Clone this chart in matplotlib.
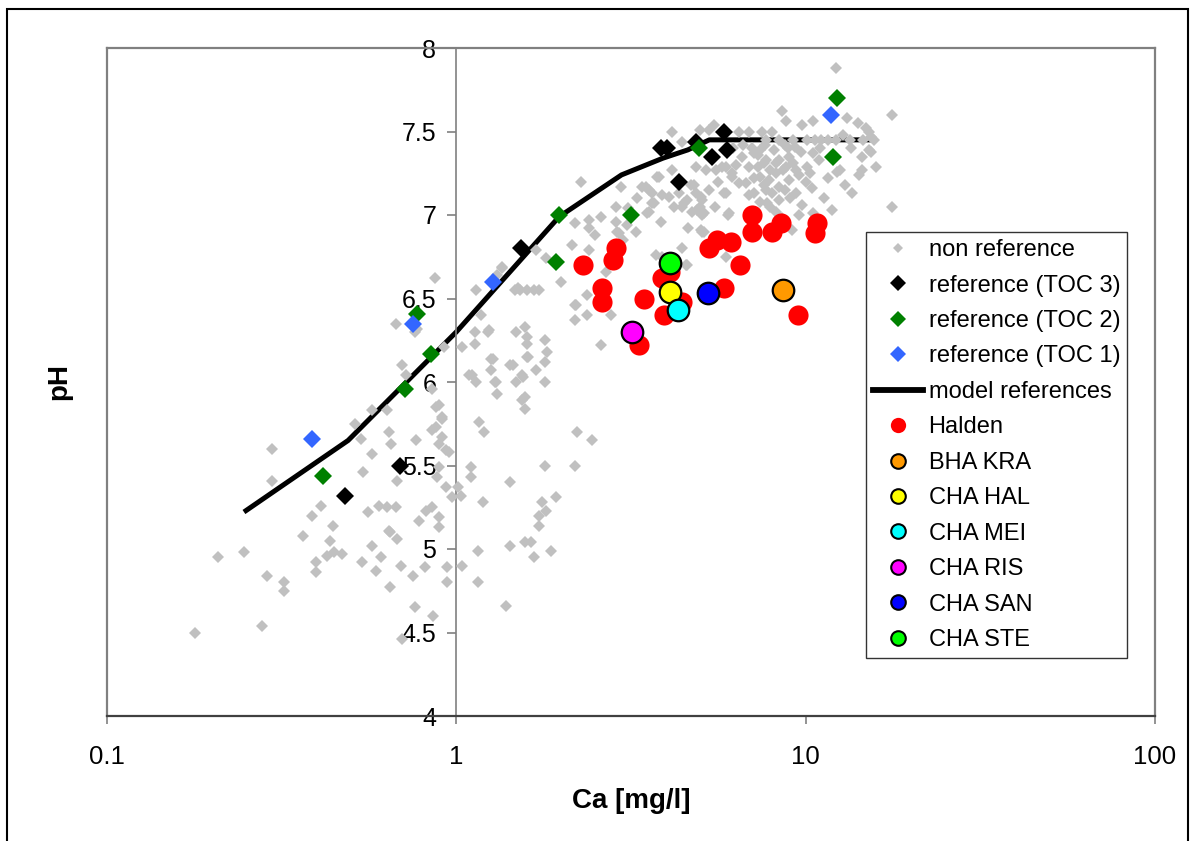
import matplotlib.pyplot as plt
from matplotlib.lines import Line2D
from matplotlib.patches import Rectangle

plt.rcParams['font.family'] = ['Liberation Sans', 'DejaVu Sans']

# non reference sites (Ca mg/l, pH)
nonref_ca = [0.179, 0.208, 0.247, 0.278, 0.297, 0.297, 0.288, 0.322, 0.322, 0.387, 0.411, 0.365, 0.445, 0.436,
             0.397, 0.397, 0.425, 0.447, 0.472, 0.538, 0.575, 0.59, 0.61, 0.647, 0.647, 0.678, 0.695, 0.753,
             0.815, 0.763, 0.86, 0.942, 0.942, 0.542, 0.56, 0.575, 0.535, 0.514, 0.575, 0.643, 0.652, 0.678,
             0.602, 0.634, 0.673, 0.768, 0.643, 0.784, 0.82, 0.854, 0.894, 0.894, 0.877, 0.912, 0.936, 0.894,
             0.882, 0.936, 0.974, 0.877, 0.634, 0.70,
             0.871, 0.673, 0.763, 0.70, 0.72, 0.924, 0.894, 0.854, 0.912, 0.955, 0.854, 0.912, 0.894,
             1.14, 1.35, 1.50, 1.59, 1.73, 1.69, 2.15, 2.40, 2.40, 2.40, 2.18, 2.87, 2.89, 3.07, 3.27, 3.52,
             3.86, 3.69, 3.89, 4.49, 4.73, 5.03, 4.43, 3.74, 4.55, 2.28, 2.97, 3.50, 1.81, 2.0, 2.18, 2.37,
             2.18, 2.37, 2.78, 2.60, 1.18, 1.13, 1.23, 1.04, 1.13, 1.48, 1.57, 1.59, 1.79, 1.82, 1.60, 1.26,
             1.42, 1.45, 1.79, 1.69, 1.54, 1.48, 1.26, 1.29, 1.11, 1.14, 1.79, 1.31, 1.57, 1.54, 1.57, 1.16,
             1.20, 2.22, 2.44, 1.79, 2.18, 1.10, 1.10, 1.42, 1.01, 1.03, 1.19, 1.93, 1.76, 1.81, 1.73, 1.73,
             1.42, 1.57, 1.64, 1.15, 1.87, 1.67, 1.04, 1.15, 1.39,
             1.24, 1.27, 1.09, 1.30, 1.59, 1.59, 1.55, 0.773, 1.47, 1.67, 1.35, 1.31,
             3.41, 3.57, 3.76, 4.07, 3.64, 4.43, 4.90, 5.06, 4.80, 5.03, 2.87, 3.57, 2.93, 2.69, 4.58, 3.89,
             5.06, 5.93, 6.0, 5.93, 6.15, 5.77, 4.86, 4.15, 4.97, 5.47, 3.81, 2.2, 1.52,
             17.7, 17.7, 12.2, 15.9, 14.5, 13.6, 13.0, 11.9, 11.3, 12.3, 8.58, 8.8, 9.79, 10.5, 13.1, 14.1,
             14.9, 15.4, 15.2, 14.5,
             4.43, 5.3, 6.45, 6.88, 7.5, 8.0, 15.2, 15.7, 15.4, 14.2, 12.5, 10.4, 10.5, 9.79, 9.4, 8.98,
             8.4, 8.03, 7.72, 7.38, 6.88, 6.58, 7.12, 7.72, 8.4, 8.98, 9.7, 10.5, 10.9, 10.1, 9.4, 8.24,
             8.8, 7.3, 7.86, 8.4, 7.12, 6.75, 6.45, 6.15, 5.93, 5.85, 6.05, 5.06, 4.97, 4.58, 5.13, 4.35,
             4.86, 5.13, 3.64, 4.15, 5.2, 5.55, 8.58, 9.16,
             7.7, 8.4, 9.2, 10.1, 11.1, 12.2, 13.4, 14.6, 7.64, 8.1, 8.7, 9.3, 7.38, 7.77,
             6.2, 6.6, 7.0, 7.3, 7.6, 7.9, 8.2, 8.6, 9.2, 9.6, 10.0, 10.3, 9.0, 8.7, 7.6, 7.1, 7.9, 8.2,
             9.6, 11.6, 11.0, 11.6, 12.8, 13.5, 6.9, 7.4, 8.9, 10.6, 6.3, 5.6, 5.3, 4.7, 4.2, 3.3, 3.1,
             2.6, 2.5, 3.0, 4.6, 5.5]
nonref_ph = [4.50, 4.95, 4.98, 4.54, 5.60, 5.41, 4.84, 4.80, 4.75, 5.20, 5.26, 5.08, 5.14, 5.05,
             4.86, 4.92, 4.96, 4.98, 4.97, 4.92, 5.02, 4.87, 4.95, 4.77, 5.10, 5.06, 4.90, 4.84,
             4.89, 4.65, 4.60, 4.80, 4.89, 5.46, 5.22, 5.57, 5.66, 5.75, 5.83, 5.70, 5.63, 5.41,
             5.26, 5.25, 5.25, 5.65, 5.11, 5.17, 5.23, 5.25, 5.19, 5.13, 5.73, 5.78, 5.59, 5.49,
             5.43, 5.37, 5.31, 5.85, 5.83, 4.46,
             6.62, 6.35, 6.30, 6.10, 6.04, 6.21, 5.86, 5.96, 5.79, 5.58, 5.71, 5.67, 5.63,
             6.55, 6.68, 6.56, 6.55, 6.55, 6.79, 6.82, 6.79, 6.97, 6.92, 6.95, 7.05, 6.90, 6.94, 6.90, 7.01,
             6.96, 7.07, 7.12, 7.07, 7.02, 6.91, 6.80, 6.76, 6.70, 7.20, 7.17, 7.17, 6.74, 6.60, 6.46, 6.40,
             6.37, 6.52, 6.40, 6.22, 6.40, 6.30, 6.30, 6.21, 6.23, 6.30, 6.33, 6.27, 6.25, 6.18, 6.15, 6.14,
             6.10, 6.10, 6.12, 6.07, 6.04, 6.00, 6.07, 6.00, 6.04, 6.00, 6.00, 5.93, 5.91, 5.89, 5.84, 5.76,
             5.70, 5.70, 5.65, 5.50, 5.50, 5.49, 5.43, 5.40, 5.37, 5.32, 5.28, 5.31, 5.28, 5.23, 5.20, 5.14,
             5.02, 5.04, 5.04, 4.99, 4.99, 4.95, 4.90, 4.80, 4.66,
             6.31, 6.14, 6.04, 6.00, 6.23, 6.15, 6.03, 6.32, 6.55, 6.55, 6.69, 6.64,
             7.17, 7.15, 7.23, 7.11, 7.07, 7.05, 7.03, 7.00, 7.18, 7.11, 6.96, 7.02, 6.89, 6.66, 6.70, 6.75,
             6.90, 6.75, 7.00, 7.13, 7.25, 7.29, 7.29, 7.50, 7.51, 7.54, 7.23, 6.46, 6.55,
             7.60, 7.05, 7.88, 7.29, 7.27, 7.13, 7.18, 7.03, 7.10, 7.26, 7.62, 7.56, 7.54, 7.56, 7.58, 7.55,
             7.52, 7.47, 7.39, 7.35,
             7.44, 7.51, 7.50, 7.50, 7.50, 7.50, 7.50, 7.45, 7.38, 7.24, 7.27, 7.16, 7.01, 7.06, 7.13, 7.21,
             7.17, 7.13, 7.15, 7.23, 7.29, 7.35, 7.37, 7.33, 7.33, 7.35, 7.38, 7.37, 7.33, 7.29, 7.27, 7.25,
             7.29, 7.29, 7.21, 7.09, 7.13, 7.19, 7.19, 7.23, 7.29, 7.13, 7.01, 7.09, 7.05, 7.09, 7.01, 7.13,
             7.13, 6.90, 7.13, 7.27, 7.27, 7.27, 6.98, 6.91,
             7.45, 7.45, 7.45, 7.45, 7.45, 7.45, 7.45, 7.45, 7.42, 7.39, 7.42, 7.41, 7.39, 7.07,
             7.40, 7.42, 7.40, 7.36, 7.31, 7.27, 7.31, 7.27, 7.31, 7.24, 7.20, 7.25, 7.10, 7.15, 7.18, 7.22,
             7.05, 7.02, 7.00, 7.22, 7.40, 7.45, 7.48, 7.40, 7.12, 7.08, 7.40, 7.45, 7.30, 7.20, 7.15, 7.18,
             7.05, 7.10, 7.04, 6.99, 6.88, 6.85, 6.92, 7.05]

toc3_ca = [0.48, 0.69, 1.53, 3.85, 4.0, 4.35, 4.85, 5.4, 5.85, 5.95]
toc3_ph = [5.32, 5.50, 6.80, 7.40, 7.40, 7.20, 7.44, 7.35, 7.50, 7.39]

toc2_ca = [0.416, 0.715, 0.77, 0.848, 1.97, 1.93, 3.17, 4.94, 12.3, 12.0]
toc2_ph = [5.44, 5.96, 6.41, 6.17, 7.00, 6.72, 7.00, 7.40, 7.70, 7.35]

toc1_ca = [0.387, 0.753, 1.27, 11.8]
toc1_ph = [5.66, 6.35, 6.60, 7.60]

model_ca = [0.25, 0.49, 1.0, 1.97, 2.97, 3.9, 4.6, 5.3, 15.4]
model_ph = [5.23, 5.65, 6.30, 6.99, 7.24, 7.34, 7.39, 7.45, 7.45]

halden_ca = [2.31, 2.87, 2.80, 2.62, 2.62, 3.45, 3.34, 3.94, 3.89, 4.43, 4.1, 5.3, 5.58, 6.1, 6.5,
             5.85, 7.03, 7.03, 8.0, 8.5, 10.8, 10.6, 9.5]
halden_ph = [6.70, 6.80, 6.73, 6.56, 6.48, 6.50, 6.22, 6.40, 6.62, 6.48, 6.66, 6.80, 6.85, 6.84, 6.70,
             6.56, 7.00, 6.90, 6.90, 6.95, 6.95, 6.89, 6.40]

site_names = ['BHA KRA', 'CHA HAL', 'CHA MEI', 'CHA RIS', 'CHA SAN', 'CHA STE']
site_ca = [8.6, 4.1, 4.32, 3.19, 5.27, 4.1]
site_ph = [6.55, 6.54, 6.43, 6.30, 6.53, 6.71]
site_colors = ['#ff9900', '#ffff00', '#00ffff', '#ff00ff', '#0000ff', '#00ff00']

gray = '#c0c0c0'
blue1 = '#3366ff'

fig = plt.figure(figsize=(11.94, 8.41), dpi=100)
ax = fig.add_axes([107 / 1194, 1 - 716 / 841, 1048 / 1194, 668 / 841])

ax.plot(model_ca, model_ph, color='black', lw=3.6, zorder=2)
ax.plot(nonref_ca, nonref_ph, 'D', color=gray, ms=6, mew=0, zorder=3)
ax.plot(toc3_ca, toc3_ph, 'D', color='black', ms=9.5, mew=0, zorder=4)
ax.plot(toc2_ca, toc2_ph, 'D', color='#008000', ms=9.5, mew=0, zorder=4)
ax.plot(toc1_ca, toc1_ph, 'D', color=blue1, ms=9.5, mew=0, zorder=4)
ax.plot(halden_ca, halden_ph, 'o', color='red', ms=14.5, mew=0, zorder=5)
for n, c, p, col in zip(site_names, site_ca, site_ph, site_colors):
    ax.plot(c, p, 'o', mfc=col, mec='black', ms=15.5, mew=1.6, zorder=6)

ax.set_xscale('log')
ax.set_xlim(0.1, 100)
ax.set_ylim(4, 8)
ax.set_xticks([0.1, 1, 10, 100])
ax.set_xticklabels(['0.1', '1', '10', '100'])
ax.minorticks_off()
ax.set_yticks([4, 4.5, 5, 5.5, 6, 6.5, 7, 7.5, 8])
ax.set_yticklabels(['4', '4.5', '5', '5.5', '6', '6.5', '7', '7.5', '8'])

# y axis crosses at Ca = 1
ax.spines['left'].set_position(('data', 1))
ax.spines['left'].set_color('#808080')
ax.spines['left'].set_linewidth(1.2)
ax.spines['top'].set_color('#808080')
ax.spines['right'].set_color('#808080')
ax.spines['top'].set_linewidth(1.6)
ax.spines['right'].set_linewidth(1.6)
ax.spines['bottom'].set_color('#404040')
ax.spines['bottom'].set_linewidth(1.6)
ax.axvline(0.1, color='#808080', lw=1.6, clip_on=False)

ax.tick_params(axis='y', direction='out', length=6.5, width=1.2, color='#808080', labelsize=18, pad=8)
ax.tick_params(axis='x', direction='out', length=6, width=1.2, color='#808080', labelsize=18.5, pad=15)

ax.set_xlabel('Ca [mg/l]', fontsize=20, fontweight='bold')
ax.xaxis.set_label_coords(0.5, -0.108)
ax.set_ylabel('pH', fontsize=20, fontweight='bold')
ax.yaxis.set_label_coords(-0.033, 0.5)

handles = [
    Line2D([], [], ls='none', marker='D', color=gray, ms=5.5, mew=0),
    Line2D([], [], ls='none', marker='D', color='black', ms=8, mew=0),
    Line2D([], [], ls='none', marker='D', color='#008000', ms=8, mew=0),
    Line2D([], [], ls='none', marker='D', color=blue1, ms=8, mew=0),
    Line2D([], [], color='black', lw=4.2),
    Line2D([], [], ls='none', marker='o', color='red', ms=11, mew=0),
]
labels = ['non reference', 'reference (TOC 3)', 'reference (TOC 2)', 'reference (TOC 1)',
          'model references', 'Halden']
for n, col in zip(site_names, site_colors):
    handles.append(Line2D([], [], ls='none', marker='o', mfc=col, mec='black', ms=10.5, mew=1.5))
    labels.append(n)

leg = ax.legend(handles, labels, loc='upper left', bbox_to_anchor=((866 - 107) / 1048, (716 - 232) / 668),
                borderaxespad=0, fontsize=17, frameon=True, fancybox=False, handlelength=2.1,
                handletextpad=0.25, labelspacing=0.57, borderpad=0.3)
leg.get_frame().set_edgecolor('black')
leg.get_frame().set_linewidth(1.0)
leg.set_zorder(10)

# outer chart frame
fig.patches.append(Rectangle((7 / 1194, -0.05), 1181 / 1194, 1 - 9 / 841 + 0.05, transform=fig.transFigure,
                             fill=False, edgecolor='black', lw=1.5))

plt.savefig('out.png', dpi=100)
